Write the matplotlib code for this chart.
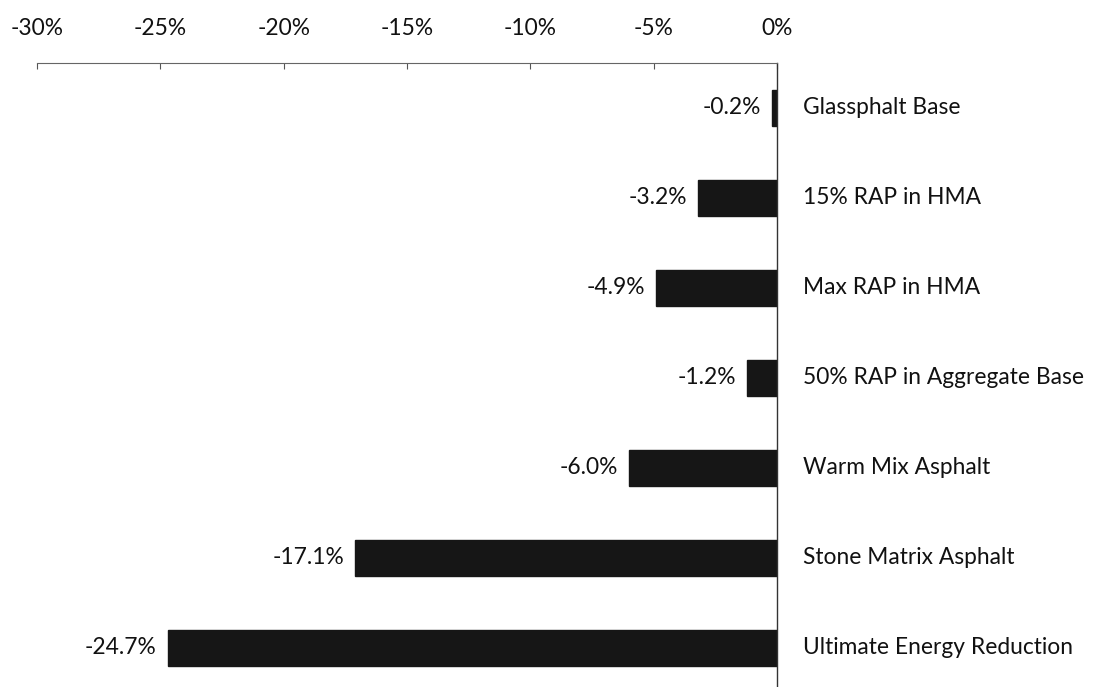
import matplotlib
matplotlib.use("Agg")
import matplotlib.pyplot as plt
from matplotlib.ticker import FuncFormatter

categories = ["Glassphalt Base", "15% RAP in HMA", "Max RAP in HMA",
              "50% RAP in Aggregate Base", "Warm Mix Asphalt",
              "Stone Matrix Asphalt", "Ultimate Energy Reduction"]
values = [-0.2, -3.2, -4.9, -1.2, -6.0, -17.1, -24.7]
xticks = [-30, -25, -20, -15, -10, -5, 0]

FONT = "Lato"
FS = 16.4

fig = plt.figure(figsize=(10.93, 6.87), dpi=100)
ax = fig.add_axes([37/1093, 1 - 693/687, (777-37)/1093, 630/687])

y = list(range(len(categories)))
ax.barh(y, values, height=0.39, color="#161616", edgecolor="#161616")
ax.set_xlim(-30, 0)
ax.set_ylim(len(categories) - 0.5, -0.5)

for yi, v, c in zip(y, values, categories):
    ax.annotate(f"{v:.1f}%", xy=(v, yi), xytext=(-11, 0), textcoords="offset pixels",
                ha="right", va="center", fontsize=FS, family=FONT, color="#111111")
    ax.annotate(c, xy=(0, yi), xytext=(26, 0), textcoords="offset pixels",
                ha="left", va="center", fontsize=FS, family=FONT, color="#111111",
                annotation_clip=False)

ax.set_xticks(xticks)
ax.xaxis.set_major_formatter(FuncFormatter(lambda v, p: f"{v:.0f}%"))
ax.tick_params(axis="x", top=True, bottom=False, labeltop=True, labelbottom=False,
               direction="in", length=4, width=0.8, color="#555555", pad=17,
               labelsize=FS, labelcolor="#111111")
for lab in ax.get_xticklabels():
    lab.set_family(FONT)
ax.set_yticks([])
for s in ["left", "bottom"]:
    ax.spines[s].set_visible(False)
ax.spines["top"].set_color("#666666")
ax.spines["top"].set_linewidth(0.8)
ax.spines["right"].set_color("#333333")
ax.spines["right"].set_linewidth(1.0)

fig.savefig("out.png", dpi=100)
